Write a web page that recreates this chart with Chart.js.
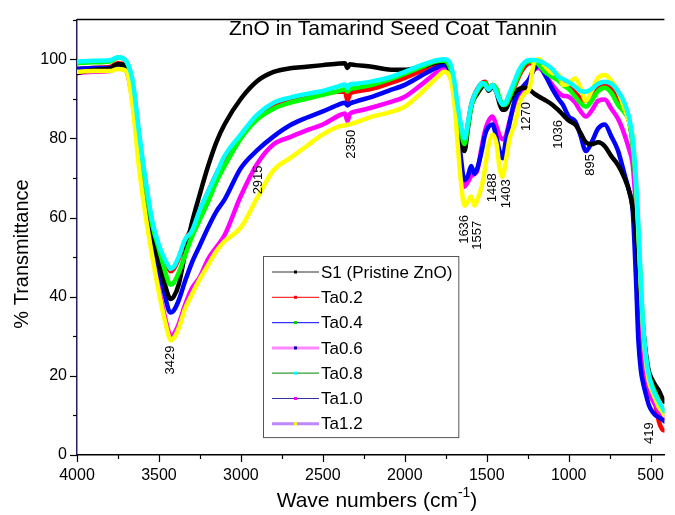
<!DOCTYPE html>
<html>
<head>
<meta charset="utf-8">
<script src="https://cdn.jsdelivr.net/npm/chart.js@4.4.0/dist/chart.umd.min.js"></script>
<style>
  html, body { margin: 0; padding: 0; background: #fff; overflow: hidden; }
  #chart { display: block; }
</style>
</head>
<body>
<canvas id="chart" width="675" height="515"></canvas>
<script>
const FONT = '"Liberation Sans", Arial, sans-serif';

/* wave numbers (cm-1) shared by every spectrum */
const waveNumbers = [
  4000, 3900, 3800, 3750, 3700,
  3660, 3620, 3580, 3540, 3500,
  3470, 3440, 3429, 3410, 3380,
  3340, 3300, 3250, 3200, 3150,
  3100, 3000, 2900, 2800, 2700,
  2600, 2500, 2400, 2365, 2350,
  2335, 2300, 2200, 2100, 2000,
  1900, 1800, 1760, 1730, 1700,
  1680, 1660, 1636, 1615, 1595,
  1575, 1557, 1530, 1510, 1488,
  1465, 1440, 1420, 1403, 1385,
  1360, 1330, 1300, 1270, 1240,
  1210, 1180, 1150, 1100, 1060,
  1036, 1000, 960, 930, 895,
  860, 820, 780, 740, 700,
  660, 630, 610, 590, 575,
  560, 545, 530, 510, 490,
  470, 450, 430, 416
];

/* % transmittance */
const s1 = [
  96.5, 97.3, 97.6, 98.8, 98.2,
  93, 79.5, 66.5, 55.5, 48.5,
  44, 40, 39.4, 40, 43,
  51, 58.5, 66, 73, 79,
  83.5, 90, 94.5, 96.8, 97.7,
  98.1, 98.5, 98.9, 99, 97.8,
  98.7, 98.5, 98.1, 97.4, 97.3,
  98.1, 99.2, 99.4, 98, 93,
  87, 81, 76.8, 82.5, 88,
  90.2, 91.3, 93, 93.5, 92,
  93, 91.5, 88.5, 87.2, 87.3,
  89.5, 91.5, 92.5, 92.8, 92.3,
  91.3, 90.5, 89.8, 88.5, 87,
  86, 84.5, 83.5, 81.5, 79,
  78.5, 79, 78, 75.5, 73.3,
  70, 66.5, 62.5, 56, 49,
  40, 32, 26, 21, 19,
  17.5, 16.3, 14.5, 13.5
];
const ta02 = [
  97.5, 97.8, 98, 99, 98.3,
  93, 80, 68, 58.5, 52.5,
  49.5, 47, 46.4, 47, 49.5,
  54, 57.5, 62, 66.5, 71,
  74.8, 80.5, 85.3, 88, 89.5,
  90.5, 91.3, 91.8, 91.8, 89.5,
  91.2, 91.8, 92.5, 93.8, 95.3,
  97, 98.5, 99, 98, 93.5,
  87.5, 82.5, 79, 83.5, 88.5,
  91, 92.5, 94, 94.3, 92.5,
  93.5, 92, 89.5, 88.3, 88.3,
  90.5, 93, 96, 98, 99,
  99, 98.5, 97.5, 96, 95,
  94.3, 93.3, 91.5, 90.2, 89.5,
  90.5, 92.5, 93.3, 92.5, 89.5,
  87, 84, 79, 68, 55,
  42, 30, 22, 17.5, 15,
  12.5, 8.5, 6.5, 6.2
];
const ta04 = [
  99, 99.2, 99.4, 100.4, 99.5,
  93.5, 79.5, 67.5, 58, 52,
  47.5, 43.5, 43, 43.5, 46,
  50.5, 55, 59.5, 64, 69,
  73, 80, 84.8, 87.5, 89,
  90, 91, 92, 92.4, 91.8,
  92.4, 92.7, 93.5, 94.8, 96.3,
  98, 99.5, 99.6, 98.5, 94,
  88, 82.5, 78.6, 83, 88,
  90.5, 92, 93.5, 94, 92.5,
  93.5, 92.5, 90, 88.5, 88.5,
  90.5, 93.5, 96.5, 98.8, 99.5,
  99.5, 98.5, 97, 95.5, 94.5,
  93.5, 92.5, 90.5, 89, 88,
  89.5, 92, 92.8, 91.5, 88.5,
  86.5, 84, 78, 68, 56,
  43, 32, 25, 20, 17.5,
  15.5, 13.5, 12, 11
];
const ta06 = [
  97.5, 97.8, 97.8, 98.5, 97.8,
  92, 78, 65.5, 55, 47,
  41.5, 36.5, 36, 36.5, 39,
  44, 48.5, 53, 57.5, 61.5,
  64.5, 72.5, 77, 80.5, 83.3,
  85.2, 86.8, 88.6, 89, 88.3,
  88.8, 89.3, 90.5, 92, 93.5,
  95.8, 98, 98.5, 97.5, 92.5,
  85, 76, 69.5, 70.5, 73,
  71, 72.5, 77, 81, 83,
  83.5, 80, 76.5, 75, 79,
  84, 89.5, 92, 93.5, 95,
  97.5, 98.5, 96.5, 92.5, 89.8,
  88.5, 85.5, 84.3, 81, 76.8,
  79, 82.5, 83.5, 80.5, 77,
  71, 66.5, 62, 45, 29,
  21.5, 18, 15.5, 12.5, 11,
  10, 9.5, 9, 8.5
];
const ta08 = [
  99.4, 99.6, 99.7, 100.5, 99.5,
  94.5, 81, 69, 59, 53,
  50, 47.6, 47, 47.5, 50,
  54.5, 56.5, 62, 66.5, 71,
  75.5, 81, 86, 89, 90.3,
  91.2, 92, 93.2, 93.6, 92.7,
  93.6, 93.8, 94.4, 95.3, 96.8,
  98.5, 99.8, 100, 99.5, 95,
  89, 84, 80, 84, 88.5,
  91, 92.3, 94, 93.5, 92.3,
  93.5, 91.5, 89.5, 88.5, 89,
  91.5, 94.5, 97.5, 99.2, 99.8,
  99.8, 99.5, 99, 97.5, 95.5,
  95, 94.2, 93, 92, 91.8,
  92.5, 93.8, 94.3, 93.8, 92,
  89, 85, 80, 70, 58,
  44, 32, 25, 20, 17,
  15, 13.5, 12, 11
];
const ta10 = [
  96.5, 96.8, 97, 97.8, 97,
  89, 74, 61.5, 51, 42,
  36, 31, 30, 30.5, 33,
  38, 42, 45, 49.5, 52.5,
  55.5, 65.5, 73.6, 78.5, 80.3,
  82, 83.5, 85.8, 86.3, 84.3,
  86.2, 86.8, 87.8, 89, 90.5,
  93.5, 96.8, 97.6, 96.5, 91.5,
  83.5, 74, 67.8, 69, 70.5,
  71, 72, 78, 82, 84.5,
  85.5, 83, 80.5, 79.8, 80.5,
  84.5, 88.5, 90.5, 92.5, 95,
  97.5, 97.8, 96.5, 93.5, 91.5,
  90.8, 90.5, 89, 87, 85.5,
  87, 89.5, 89.8, 87.5, 85,
  81, 77, 73.5, 62, 47,
  34, 25, 19.5, 16, 14,
  12.5, 11, 10, 9.3
];
const ta12 = [
  96.8, 97, 97, 97.5, 97,
  88, 72, 60, 50, 41,
  35, 30, 29, 29.5, 32,
  37, 40.5, 44.5, 48, 51.5,
  54, 57.5, 65, 72, 75,
  78, 81, 83, 83.3, 83.4,
  83.6, 84, 85.5, 86.5, 88,
  91.5, 95.5, 96.8, 96, 90,
  80, 70, 63, 64, 65.3,
  63, 64.5, 68, 72.5, 78.5,
  81, 78.5, 72, 70.3, 74,
  80, 83.5, 89, 91.3, 92.5,
  99.3, 100, 98.5, 96.5, 96,
  93.5, 93.8, 95.2, 93, 89.5,
  92, 95.3, 96, 94.5, 92,
  87.5, 84, 80.5, 70, 57,
  43, 31, 24, 18.5, 16,
  14, 12, 11, 10
];

const sampleNames = ['S1 (Pristine ZnO)', 'Ta0.2', 'Ta0.4', 'Ta0.6', 'Ta0.8', 'Ta1.0', 'Ta1.2'];
const sampleValues = [s1, ta02, ta04, ta06, ta08, ta10, ta12];
const curveColors = ['#000000', '#ff0000', '#00ff00', '#0000ff', '#00ffff', '#ff00ff', '#ffff00'];
const drawOrder = [4, 7, 3, 5, 1, 6, 2];
const legendLines = ['#333333', '#ff3333', '#3333ff', '#ff88ff', '#339933', '#333399', '#bb88ff'];
const legendLineWidths = [1.2, 1.2, 1.2, 3, 1.2, 1.2, 3];
const legendMarkers = ['#000000', '#ff0000', '#00cc00', '#0000aa', '#00ffff', '#ff00ff', '#ffff00'];

const xTickLabels = [4000, 3500, 3000, 2500, 2000, 1500, 1000, 500];
const yTickLabels = [0, 20, 40, 60, 80, 100];

/* band assignments written on the plot */
const peakLabels = ['3429', '2915', '2350', '1636', '1557', '1488', '1403', '1270', '1036', '895', '419'];
const peakWave = [3432, 2895, 2325, 1636, 1556, 1466, 1382, 1256, 1062, 866, 505];
const peakT = [24, 69.5, 78.5, 57, 55.5, 67.5, 66, 85.5, 81, 73.3, 5.5];

const datasets = sampleNames.map((name, i) => ({
  label: name,
  data: waveNumbers.map((w, j) => ({ x: w, y: sampleValues[i][j] })),
  borderColor: curveColors[i],
  backgroundColor: curveColors[i],
  borderWidth: 4.5,
  pointRadius: 0,
  cubicInterpolationMode: 'monotone',
  borderJoinStyle: 'round',
  borderCapStyle: 'round',
  order: drawOrder[i]
}));

const extras = {
  id: 'extras',
  afterDraw(chart) {
    const { ctx, chartArea: a, scales: { x, y } } = chart;
    ctx.save();
    ctx.strokeStyle = '#000';
    ctx.fillStyle = '#000';

    /* top frame */
    ctx.lineWidth = 1.5;
    ctx.beginPath();
    ctx.moveTo(a.left, a.top);
    ctx.lineTo(a.right, a.top);
    ctx.stroke();

    /* tick marks, major and minor, outward */
    ctx.lineWidth = 1.2;
    xTickLabels.forEach(v => {
      [[v, 7], [v - 250, 4]].forEach(([t, len]) => {
        if (t < x.min || t > x.max) return;
        const px = Math.round(x.getPixelForValue(t)) + 0.5;
        ctx.beginPath();
        ctx.moveTo(px, a.bottom);
        ctx.lineTo(px, a.bottom + len);
        ctx.stroke();
      });
    });
    yTickLabels.forEach(v => {
      [[v, 7], [v + 10, 4]].forEach(([t, len]) => {
        const py = Math.round(y.getPixelForValue(t)) + 0.5;
        ctx.beginPath();
        ctx.moveTo(a.left, py);
        ctx.lineTo(a.left - len, py);
        ctx.stroke();
      });
    });

    /* rotated band labels */
    ctx.font = '13px ' + FONT;
    ctx.textAlign = 'center';
    ctx.textBaseline = 'middle';
    peakLabels.forEach((txt, i) => {
      ctx.save();
      ctx.translate(x.getPixelForValue(peakWave[i]), y.getPixelForValue(peakT[i]));
      ctx.rotate(-Math.PI / 2);
      ctx.fillText(txt, 0, 0);
      ctx.restore();
    });

    /* chart title inside the frame */
    ctx.font = '21px ' + FONT;
    ctx.fillText('ZnO in Tamarind Seed Coat Tannin', 393, 29);

    /* x axis title with superscript */
    const cx = 377;
    const base = 'Wave numbers (cm';
    ctx.font = '21px ' + FONT;
    const w1 = ctx.measureText(base).width;
    const w3 = ctx.measureText(')').width;
    ctx.font = '14px ' + FONT;
    const w2 = ctx.measureText('-1').width;
    const sx = cx - (w1 + w2 + w3) / 2;
    ctx.textAlign = 'left';
    ctx.textBaseline = 'alphabetic';
    ctx.font = '21px ' + FONT;
    ctx.fillText(base, sx, 507);
    ctx.font = '14px ' + FONT;
    ctx.fillText('-1', sx + w1, 497);
    ctx.font = '21px ' + FONT;
    ctx.fillText(')', sx + w1 + w2, 507);

    /* y axis title */
    ctx.save();
    ctx.translate(22, 254);
    ctx.rotate(-Math.PI / 2);
    ctx.textAlign = 'center';
    ctx.textBaseline = 'middle';
    ctx.font = '20px ' + FONT;
    ctx.fillText('% Transmittance', 0, 0);
    ctx.restore();

    /* legend box */
    const lx = 263, ly = 256, rowH = 25.3;
    ctx.font = '17px ' + FONT;
    const textW = Math.max(...sampleNames.map(n => ctx.measureText(n).width));
    const boxW = 58 + textW + 6;
    const boxH = rowH * sampleNames.length + 4;
    ctx.fillStyle = '#fff';
    ctx.fillRect(lx, ly, boxW, boxH);
    ctx.strokeStyle = '#555';
    ctx.lineWidth = 1;
    ctx.strokeRect(lx + 0.5, ly + 0.5, boxW, boxH);
    sampleNames.forEach((name, i) => {
      const ry = ly + 16 + i * rowH;
      ctx.strokeStyle = legendLines[i];
      ctx.lineWidth = legendLineWidths[i];
      ctx.beginPath();
      ctx.moveTo(lx + 9, ry);
      ctx.lineTo(lx + 56, ry);
      ctx.stroke();
      ctx.fillStyle = legendMarkers[i];
      ctx.fillRect(lx + 31, ry - 1.5, 3, 3);
      ctx.fillStyle = '#000';
      ctx.textAlign = 'left';
      ctx.textBaseline = 'middle';
      ctx.fillText(name, lx + 58, ry + 1);
    });

    ctx.restore();
  }
};

new Chart(document.getElementById('chart'), {
  type: 'line',
  data: { datasets },
  options: {
    responsive: false,
    animation: false,
    devicePixelRatio: 1,
    layout: { padding: { top: 14, right: 0, left: 0, bottom: 0 } },
    plugins: { legend: { display: false }, tooltip: { enabled: false }, title: { display: false } },
    scales: {
      x: {
        type: 'linear',
        reverse: true,
        min: 416,
        max: 4000,
        afterBuildTicks: s => { s.ticks = xTickLabels.map(v => ({ value: v })); },
        afterFit: s => { s.height = 60; },
        ticks: { font: { family: FONT, size: 16 }, color: '#000', padding: 11, maxRotation: 0, autoSkip: false, callback: v => String(v) },
        grid: { display: false, drawTicks: false },
        border: { display: true, color: '#000', width: 1.5 }
      },
      y: {
        min: 0,
        max: 110,
        afterBuildTicks: s => { s.ticks = yTickLabels.map(v => ({ value: v })); },
        afterFit: s => { s.width = 77; },
        ticks: { font: { family: FONT, size: 16 }, color: '#000', padding: 10, callback: v => String(v) },
        grid: { display: false, drawTicks: false },
        border: { display: true, color: '#2a1f5c', width: 1.5 }
      }
    }
  },
  plugins: [extras]
});
</script>
</body>
</html>
